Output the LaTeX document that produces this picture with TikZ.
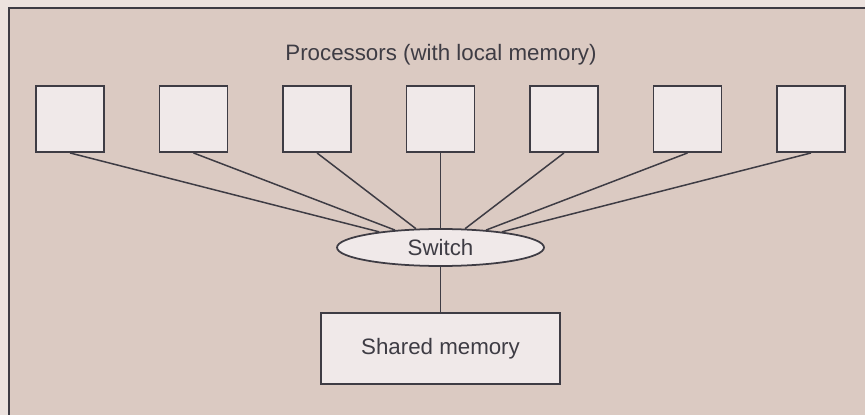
\documentclass[tikz,border=0pt]{standalone}
\usepackage{fontspec}
\setmainfont{Liberation Sans}
\usetikzlibrary{shapes.geometric}

\definecolor{paper}{RGB}{236,226,222}
\definecolor{panel}{RGB}{219,202,194}
\definecolor{boxfill}{RGB}{240,233,233}
\definecolor{ink}{RGB}{62,60,68}

\tikzset{
  proc/.style={draw=ink,line width=1.1pt,fill=boxfill,minimum width=1.36cm,minimum height=1.32cm,inner sep=0},
  wire/.style={draw=ink,line width=0.85pt},
  label/.style={text=ink,font=\fontsize{12.7}{15}\selectfont}
}

\begin{document}
\begin{tikzpicture}[x=0.02cm,y=-0.02cm]
\useasboundingbox (0,0) rectangle (865,415);
\fill[paper] (0,0) rectangle (865,415);

% panel behind the machine
\fill[panel] (9,8) rectangle (875,425);
\draw[ink,line width=1.6pt] (9,425) -- (9,8) -- (875,8);

\node[label,anchor=base] (title) at (441,61) {Processors (with local memory)};

\foreach \i in {1,...,7}
  \node[proc] (p\i) at ({70+123.5*(\i-1)},119) {};

\node[label,draw=ink,line width=1pt,fill=boxfill,ellipse,inner sep=0,
      minimum width=4.14cm,minimum height=0.74cm] (sw) at (440.5,247.5) {Switch};

\node[label,draw=ink,line width=1pt,fill=boxfill,inner sep=0,
      minimum width=4.78cm,minimum height=1.42cm] (mem) at (440.5,348.5) {Shared memory};

\foreach \i in {1,...,7}
  \draw[wire] (p\i.south) -- (sw);
\draw[wire] (sw) -- (mem);
\end{tikzpicture}
\end{document}
